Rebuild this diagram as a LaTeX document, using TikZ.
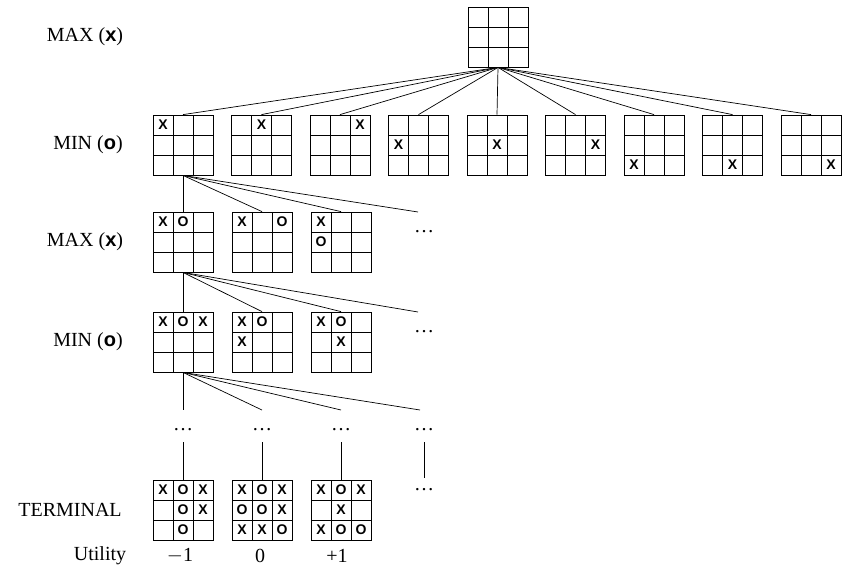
\documentclass[tikz,border=0pt]{standalone}
\usepackage{fontspec}
\setmainfont{Liberation Serif}
\setsansfont{Liberation Sans}
\newcommand\bd[3]{%
  \node[board] (#1) at (#2,#3) {};
  \draw[grid] (#2-10,#3-30) -- (#2-10,#3+30) (#2+10,#3-30) -- (#2+10,#3+30)
    (#2-30,#3-10) -- (#2+30,#3-10) (#2-30,#3+10) -- (#2+30,#3+10);}
\newcommand\mks[3]{\foreach \mkr/\mkc/\mkm in {#3} \node[mk] at (#1-40+20*\mkc,#2-40+20*\mkr) {\mkm};}
\begin{document}
\begin{tikzpicture}[x=1pt,y=-1pt,
  board/.style={draw,minimum size=60pt,inner sep=0,line width=0.8pt},
  grid/.style={line width=0.8pt},
  mk/.style={font=\sffamily\bfseries\fontsize{14}{14}\selectfont,inner sep=0},
  lbl/.style={font=\fontsize{20}{20}\selectfont,inner sep=0},
  edge/.style={line width=0.7pt}]
\useasboundingbox (0,0) rectangle (853,568);
% labels
\node[lbl] (l0) at (85,37) {MAX ({\sffamily\bfseries x})};
\node[lbl] (l1) at (88,145) {MIN ({\sffamily\bfseries o})};
\node[lbl] (l2) at (85,242) {MAX ({\sffamily\bfseries x})};
\node[lbl] (l3) at (88,342) {MIN ({\sffamily\bfseries o})};
\node[lbl] (l4) at (70,510) {TERMINAL};
\node[lbl] (l5) at (100,556) {Utility};
\node[lbl] (u1) at (180,556) {$-$1};
\node[lbl] (u2) at (260,556) {0};
\node[lbl] (u3) at (337,556) {+1};
% root
\bd{root}{498}{37}
% level 1
\foreach \i/\ri/\ci in {0/1/1,1/1/2,2/1/3,3/2/1,4/2/2,5/2/3,6/3/1,7/3/2,8/3/3}{
  \pgfmathsetmacro\cx{183+78.5*\i}
  \bd{a\i}{\cx}{145}
  \node[mk] at (\cx-40+20*\ci,145-40+20*\ri) {X};
  \draw[edge] (root.south) -- (a\i.north);
}
% level 2
\bd{b0}{183}{242}\mks{183}{242}{1/1/X,1/2/O}
\bd{b1}{262}{242}\mks{262}{242}{1/1/X,1/3/O}
\bd{b2}{341}{242}\mks{341}{242}{1/1/X,2/1/O}
\node[lbl] (d2) at (424,232) {\dots};
\coordinate (e2) at (418,212);
\foreach \n in {b0,b1,b2}\draw[edge] (a0.south) -- (\n.north);
\draw[edge] (a0.south) -- (e2);
% level 3
\bd{c0}{183}{342}\mks{183}{342}{1/1/X,1/2/O,1/3/X}
\bd{c1}{262}{342}\mks{262}{342}{1/1/X,1/2/O,2/1/X}
\bd{c2}{341}{342}\mks{341}{342}{1/1/X,1/2/O,2/2/X}
\node[lbl] (d3) at (424,332) {\dots};
\coordinate (e3) at (418,312);
\foreach \n in {c0,c1,c2}\draw[edge] (b0.south) -- (\n.north);
\draw[edge] (b0.south) -- (e3);
% dots row
\node[lbl] (f0) at (183,430) {\dots};
\node[lbl] (f1) at (262,430) {\dots};
\node[lbl] (f2) at (341,430) {\dots};
\node[lbl] (f3) at (424,430) {\dots};
\coordinate (g0) at (183,410);
\coordinate (g1) at (262,410);
\coordinate (g2) at (341,410);
\coordinate (g3) at (420,410);
\foreach \n in {g0,g1,g2,g3}\draw[edge] (c0.south) -- (\n);
% terminal
\bd{t0}{183}{510}\mks{183}{510}{1/1/X,1/2/O,1/3/X,2/2/O,2/3/X,3/2/O}
\bd{t1}{262}{510}\mks{262}{510}{1/1/X,1/2/O,1/3/X,2/1/O,2/2/O,2/3/X,3/1/X,3/2/X,3/3/O}
\bd{t2}{341}{510}\mks{341}{510}{1/1/X,1/2/O,1/3/X,2/2/X,3/1/X,3/2/O,3/3/O}
\node[lbl] (d4) at (424,490) {\dots};
\coordinate (h0) at (183,442);
\coordinate (h1) at (262,442);
\coordinate (h2) at (341,442);
\coordinate (h3) at (424,442);
\coordinate (h4) at (424,478);
\draw[edge] (h0) -- (t0.north);
\draw[edge] (h1) -- (t1.north);
\draw[edge] (h2) -- (t2.north);
\draw[edge] (h3) -- (h4);
\end{tikzpicture}
\end{document}
